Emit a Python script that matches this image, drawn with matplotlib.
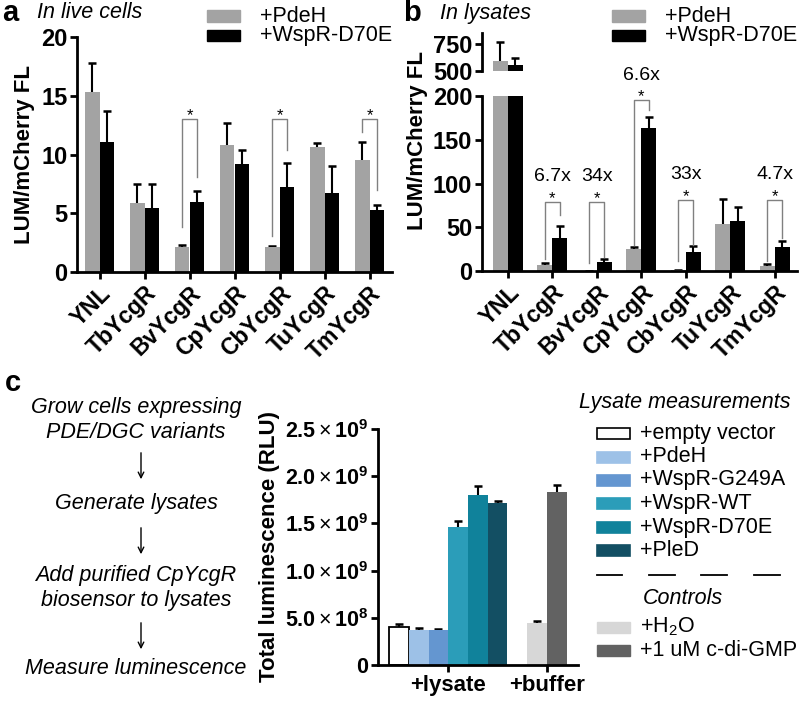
import numpy as np
import matplotlib
matplotlib.use('Agg')
import matplotlib.pyplot as plt
from matplotlib.patches import Rectangle, FancyArrowPatch
from matplotlib.lines import Line2D

plt.rcParams['font.family'] = ['Liberation Sans', 'DejaVu Sans']
plt.rcParams['mathtext.fontset'] = 'custom'
plt.rcParams['mathtext.rm'] = 'Liberation Sans'
plt.rcParams['mathtext.bf'] = 'Liberation Sans:bold'
plt.rcParams['mathtext.it'] = 'Liberation Sans:italic'

# ---------------- data ----------------
categories = ['YNL', 'TbYcgR', 'BvYcgR', 'CpYcgR', 'CbYcgR', 'TuYcgR', 'TmYcgR']
series_names = ['+PdeH', '+WspR-D70E']

# panel a (in live cells)
a_pdeh = [15.35, 5.9, 2.15, 10.8, 2.1, 10.65, 9.5]
a_pdeh_err = [2.45, 1.6, 0.15, 1.9, 0.1, 0.35, 1.6]
a_wspr = [11.07, 5.45, 6.0, 9.2, 7.26, 6.7, 5.25]
a_wspr_err = [2.6, 2.0, 0.9, 1.2, 2.0, 2.3, 0.45]
a_yticks = [0, 5, 10, 15, 20]
a_sig_idx = [2, 4, 6]
a_br_top = [13.0, 13.0, 13.0]
a_br_left = [3.8, 3.1, 11.9]
a_br_right = [8.1, 10.4, 7.0]

# panel b (in lysates)
b_pdeh = [588, 6.5, 0.4, 25, 0.6, 53.7, 6]
b_pdeh_err = [183, 2.5, 0.0, 2.4, 0.0, 29, 2]
b_wspr = [552, 37.7, 10.7, 163, 22, 57.5, 27.8]
b_wspr_err = [72, 13.3, 2.6, 13, 7, 16, 7]
b_yticks_low = [0, 50, 100, 150, 200]
b_yticks_high = [500, 750]
b_sig_idx = [1, 2, 3, 4, 6]
b_br_top = [79, 79, 195, 81, 81]
b_br_left = [14, 9, 30, 12, 12]
b_br_right = [64, 16, 184, 30, 38]
b_fold = ['6.7x', '34x', '6.6x', '33x', '4.7x']

# panel c
c_lysate_labels = ['+empty vector', '+PdeH', '+WspR-G249A', '+WspR-WT', '+WspR-D70E', '+PleD']
c_lysate = [0.40e9, 0.37e9, 0.37e9, 1.458e9, 1.80e9, 1.713e9]
c_lysate_err = [0.034e9, 0.02e9, 0.01e9, 0.071e9, 0.096e9, 0.021e9]
c_ctrl_labels = ['+H$_2$O', '+1 uM c-di-GMP']
c_ctrl = [0.442e9, 1.836e9]
c_ctrl_err = [0.027e9, 0.071e9]
c_groups = ['+lysate', '+buffer']
c_yticks = [0, 0.5e9, 1.0e9, 1.5e9, 2.0e9, 2.5e9]
c_yticklabels = ['0', r'$\mathbf{5.0}\times\mathbf{10^8}$', r'$\mathbf{1.0}\times\mathbf{10^9}$',
                 r'$\mathbf{1.5}\times\mathbf{10^9}$', r'$\mathbf{2.0}\times\mathbf{10^9}$',
                 r'$\mathbf{2.5}\times\mathbf{10^9}$']
flow_steps = ['Grow cells expressing\nPDE/DGC variants', 'Generate lysates',
              'Add purified CpYcgR\nbiosensor to lysates', 'Measure luminescence']

# ---------------- styling ----------------
GRAY = '#a3a3a3'
BLACK = '#000000'
C_COLORS = ['white', '#9dc1e7', '#6496d0', '#2b9db9', '#10829b', '#134f63']
CTRL_COLORS = ['#d7d7d7', '#626262']
BR_COLOR = '#808080'

W, H = 800, 704
fig = plt.figure(figsize=(8, 7.04), dpi=100)


def box(l, t, r, b):
    return [l / W, 1 - b / H, (r - l) / W, (b - t) / H]


def fp(x, y):
    return (x / W, 1 - y / H)


def style(ax, bottom=True, size=17):
    for s in ['top', 'right']:
        ax.spines[s].set_visible(False)
    ax.spines['left'].set_linewidth(2)
    ax.spines['bottom'].set_linewidth(2)
    if not bottom:
        ax.spines['bottom'].set_visible(False)
    ax.tick_params(width=2, length=5, labelsize=size, pad=2)


def errbars(ax, x, vals, err):
    vals = np.asarray(vals, float)
    err = np.asarray(err, float)
    _, caps, _ = ax.errorbar(x, vals, yerr=[np.zeros_like(err), err], fmt='none',
                             ecolor='black', elinewidth=1.5, capsize=3.2, capthick=1.8,
                             zorder=1)
    caps[0].set_visible(False)


# ---------------- panel a ----------------
axa = fig.add_axes(box(77, 37, 392, 272))
x = np.arange(len(categories))
w = 0.33
axa.bar(x - w / 2, a_pdeh, w, color=GRAY, zorder=2)
axa.bar(x + w / 2, a_wspr, w, color=BLACK, zorder=2)
errbars(axa, x - w / 2, a_pdeh, a_pdeh_err)
errbars(axa, x + w / 2, a_wspr, a_wspr_err)
axa.set_xlim(-0.5, 6.5)
axa.set_ylim(0, 20)
style(axa)
axa.set_yticks(a_yticks, [str(v) for v in a_yticks], fontweight='bold')
axa.set_xticks(x, categories, fontweight='bold', rotation=45, ha='right',
               va='top', rotation_mode='anchor', fontsize=16.5)
axa.set_ylabel('LUM/mCherry FL', fontsize=16, fontweight='bold', labelpad=4)
for i, t, l, r in zip(a_sig_idx, a_br_top, a_br_left, a_br_right):
    xl, xr = i - w / 2, i + w / 2
    axa.plot([xl, xl, xr, xr], [l, t, t, r], color=BR_COLOR, lw=1, zorder=3)
    axa.text(i, t - 0.1, '*', ha='center', va='baseline', fontsize=12)

# ---------------- panel b ----------------
wb = 0.34
axb = fig.add_axes(box(482, 96, 797, 271))
axb2 = fig.add_axes(box(482, 33, 797, 71))
axb2.patch.set_visible(False)
for ax in (axb, axb2):
    ax.bar(x - wb / 2, b_pdeh, wb, color=GRAY, zorder=2)
    ax.bar(x + wb / 2, b_wspr, wb, color=BLACK, zorder=2)
    errbars(ax, x - wb / 2, b_pdeh, b_pdeh_err)
    errbars(ax, x + wb / 2, b_wspr, b_wspr_err)
    ax.set_xlim(-0.58, 6.5)
axb.set_ylim(0, 200)
axb2.set_ylim(500, 850)
style(axb)
style(axb2, bottom=False)
axb.set_yticks(b_yticks_low, [str(v) for v in b_yticks_low], fontweight='bold')
axb2.set_yticks(b_yticks_high, [str(v) for v in b_yticks_high], fontweight='bold')
axb2.set_xticks([])
axb.set_xticks(x, categories, fontweight='bold', rotation=45, ha='right',
               va='top', rotation_mode='anchor', fontsize=16.5)
for i, t, l, r, lab in zip(b_sig_idx, b_br_top, b_br_left, b_br_right, b_fold):
    xl, xr = i - wb / 2, i + wb / 2
    axb.plot([xl, xl, xr, xr], [l, t, t, r], color=BR_COLOR, lw=1, zorder=3,
             clip_on=False)
    axb.text(i, t - 1, '*', ha='center', va='baseline', fontsize=12, clip_on=False)
    axb.text(i, t + 29, lab, ha='center', va='center', fontsize=14)
fig.text(*fp(418, 141), 'LUM/mCherry FL', rotation=90, ha='center', va='center',
         fontsize=16, fontweight='bold')

# legends a and b
for x0, tx in [(207, 260), (612, 665)]:
    for (y0, y1), col, name in zip([(10, 22), (30, 41)], [GRAY, BLACK], series_names):
        fig.add_artist(Rectangle(fp(x0, y1), 33 / W, (y1 - y0) / H, color=col,
                                 transform=fig.transFigure))
        fig.text(*fp(tx, (y0 + y1) / 2), name, ha='left', va='center', fontsize=15.5)

fig.text(*fp(2, 13), 'a', fontsize=21, fontweight='bold', ha='left', va='center')
fig.text(*fp(37, 13), 'In live cells', fontsize=15.5, style='italic', ha='left', va='center')
fig.text(*fp(403, 13), 'b', fontsize=21, fontweight='bold', ha='left', va='center')
fig.text(*fp(440, 13), 'In lysates', fontsize=15.5, style='italic', ha='left', va='center')
fig.text(*fp(5, 383), 'c', fontsize=21, fontweight='bold', ha='left', va='center')

# ---------------- panel c ----------------
axc = fig.add_axes(box(378, 429, 578, 665))
xl_c = np.arange(len(c_lysate))
xc_c = np.array([7, 8])
axc.bar(xl_c, c_lysate, 1.0, color=C_COLORS, edgecolor=['black'] + C_COLORS[1:],
        linewidth=[1.3, 0, 0, 0, 0, 0], zorder=2)
axc.bar(xc_c, c_ctrl, 1.0, color=CTRL_COLORS, zorder=2)
errbars(axc, xl_c, c_lysate, c_lysate_err)
errbars(axc, xc_c, c_ctrl, c_ctrl_err)
axc.set_xlim(-1.07, 9.08)
axc.set_ylim(0, 2.5e9)
style(axc, size=15.5)
axc.set_yticks(c_yticks, c_yticklabels, fontweight='bold')
axc.set_xticks([2.5, 7.5], c_groups, fontweight='bold', fontsize=16)
axc.set_ylabel('Total luminescence (RLU)', fontsize=16, fontweight='bold', labelpad=3)

# legend c
fig.text(*fp(579, 403), 'Lysate measurements', fontsize=15.5, style='italic',
         ha='left', va='center')
rows = [433, 457, 480, 503, 527, 550]
for yc, col, name in zip(rows, C_COLORS, c_lysate_labels):
    fig.add_artist(Rectangle(fp(597, yc + 5.5), 33 / W, 11 / H, facecolor=col,
                             edgecolor='black' if col == 'white' else col, lw=1.2,
                             transform=fig.transFigure))
    fig.text(*fp(640, yc), name, fontsize=15.5, ha='left', va='center')
for xa, xb in [(597, 622), (649, 675), (701, 727), (754, 780)]:
    fig.add_artist(Line2D([xa / W, xb / W], [1 - 575 / H] * 2, color='black', lw=1.3,
                          transform=fig.transFigure))
fig.text(*fp(683, 598), 'Controls', fontsize=15.5, style='italic', ha='center',
         va='center')
for yc, col, name in zip([627, 650], CTRL_COLORS, c_ctrl_labels):
    fig.add_artist(Rectangle(fp(597, yc + 5.5), 33 / W, 11 / H, color=col,
                             transform=fig.transFigure))
    fig.text(*fp(640, yc), name, fontsize=15.5, ha='left', va='center')

# flow chart
flow_y = [420, 503, 588, 668]
for yc, txt in zip(flow_y, flow_steps):
    fig.text(*fp(136, yc), txt, fontsize=15.5, style='italic', ha='center',
             va='center', linespacing=1.25)
for y0, y1 in [(450, 482), (525, 557), (620, 652)]:
    fig.add_artist(FancyArrowPatch(fp(141, y0), fp(141, y1), arrowstyle='->',
                                   mutation_scale=10, lw=1.0, color='black',
                                   transform=fig.transFigure))

fig.savefig('out.png', dpi=100)
